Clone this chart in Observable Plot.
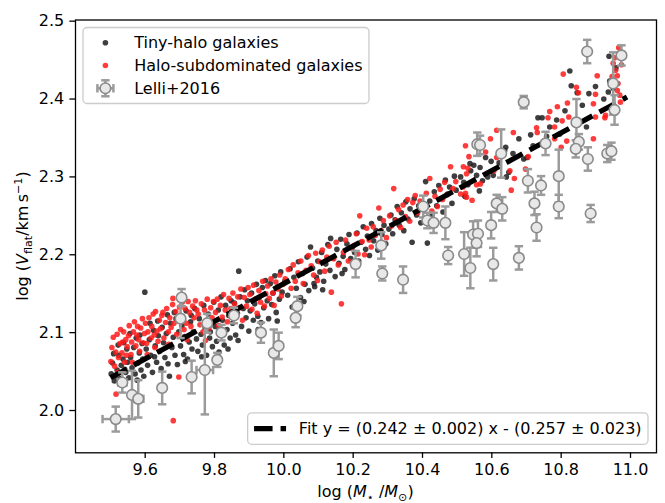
<!DOCTYPE html>
<html>
<head>
<meta charset="utf-8">
<script src="https://cdn.jsdelivr.net/npm/d3@7"></script>
<script src="https://cdn.jsdelivr.net/npm/@observablehq/plot@0.6"></script>
<style>
  html, body { margin: 0; padding: 0; background: #fff; }
  #chart svg { display: block; }
</style>
</head>
<body>
<div id="chart"></div>
<script>
// Tiny-halo galaxies: [log M*, log Vflat]
const tinyHalo = [
  [9.502,2.047],[9.511,2.038],[9.506,2.061],[9.519,2.052],[9.524,2.071],[9.513,2.044],[9.531,2.058],[9.528,2.041],
  [9.536,2.066],[9.541,2.053],[9.547,2.079],[9.538,2.087],[9.544,2.049],[9.509,2.073],[9.522,2.084],[9.549,2.062],
  [9.553,2.042],[9.558,2.068],[9.562,2.055],[9.567,2.081],[9.571,2.047],[9.574,2.093],[9.579,2.061],[9.583,2.074],
  [9.588,2.052],[9.591,2.086],[9.596,2.044],[9.599,2.152],[9.556,2.099],[9.585,2.097],[9.593,2.066],[9.577,2.039],
  [9.603,2.079],[9.607,2.058],[9.612,2.091],[9.616,2.071],[9.621,2.049],[9.624,2.103],[9.629,2.083],[9.633,2.062],
  [9.638,2.096],[9.642,2.076],[9.646,2.054],[9.649,2.107],[9.614,2.112],[9.636,2.115],[9.627,2.069],
  [9.653,2.087],[9.657,2.068],[9.661,2.099],[9.666,2.060],[9.670,2.044],[9.673,2.112],[9.677,2.081],[9.681,2.094],
  [9.686,2.071],[9.689,2.118],[9.693,2.059],[9.697,2.101],[9.664,2.123],[9.684,2.126],
  [9.702,2.083],[9.706,2.109],[9.711,2.072],[9.714,2.095],[9.718,2.128],[9.722,2.066],[9.727,2.088],[9.731,2.114],
  [9.735,2.079],[9.739,2.101],[9.743,2.131],[9.748,2.092],[9.716,2.063],[9.733,2.122],
  [9.752,2.076],[9.756,2.118],[9.761,2.098],[9.765,2.084],[9.769,2.135],[9.773,2.106],[9.777,2.071],[9.782,2.124],
  [9.786,2.093],[9.790,2.113],[9.794,2.082],[9.798,2.139],[9.763,2.069],[9.788,2.101],
  [9.802,2.108],[9.806,2.089],[9.811,2.129],[9.815,2.097],[9.819,2.146],[9.823,2.116],[9.828,2.084],[9.832,2.135],
  [9.836,2.104],[9.841,2.122],[9.845,2.093],[9.848,2.141],[9.813,2.075],[9.839,2.079],
  [9.852,2.112],[9.857,2.138],[9.861,2.097],[9.866,2.125],[9.870,2.179],[9.874,2.146],[9.878,2.108],[9.883,2.131],
  [9.887,2.155],[9.891,2.119],[9.895,2.141],[9.899,2.102],[9.868,2.090],
  [9.903,2.128],[9.907,2.151],[9.912,2.116],[9.916,2.137],[9.921,2.162],[9.925,2.121],[9.929,2.145],[9.934,2.113],
  [9.938,2.158],[9.942,2.132],[9.947,2.167],[9.926,2.104],
  [9.952,2.141],[9.956,2.118],[9.961,2.163],[9.965,2.136],[9.969,2.151],[9.974,2.173],[9.978,2.126],[9.982,2.159],
  [9.987,2.143],[9.991,2.178],[9.995,2.152],[9.981,2.115],
  [10.003,2.166],[10.011,2.148],[10.018,2.182],[10.024,2.133],[10.029,2.171],[10.036,2.157],[10.042,2.191],[10.048,2.145],
  [10.054,2.176],[10.061,2.162],[10.067,2.197],[10.072,2.154],[10.077,2.210],[10.083,2.183],[10.089,2.159],[10.094,2.171],
  [10.098,2.192],[10.058,2.140],[10.087,2.163],
  [10.104,2.178],[10.109,2.203],[10.115,2.166],[10.121,2.188],[10.127,2.213],[10.133,2.180],[10.135,2.221],[10.142,2.196],
  [10.148,2.172],[10.153,2.207],[10.159,2.189],[10.164,2.220],[10.171,2.198],[10.176,2.181],[10.182,2.214],[10.188,2.226],
  [10.193,2.195],[10.197,2.209],[10.112,2.155],[10.168,2.176],
  [10.204,2.203],[10.211,2.228],[10.216,2.192],[10.223,2.216],[10.229,2.236],[10.236,2.207],[10.241,2.224],[10.247,2.199],
  [10.253,2.240],[10.259,2.218],[10.266,2.231],[10.271,2.206],[10.277,2.247],[10.283,2.226],[10.289,2.238],[10.294,2.214],
  [10.303,2.233],[10.309,2.251],[10.314,2.227],[10.321,2.245],[10.327,2.262],[10.333,2.238],[10.339,2.254],[10.346,2.231],
  [10.352,2.268],[10.358,2.246],[10.364,2.259],[10.370,2.216],[10.376,2.272],[10.383,2.251],[10.389,2.263],[10.395,2.241],
  [10.404,2.258],[10.409,2.294],[10.414,2.215],[10.421,2.269],[10.428,2.251],[10.434,2.281],[10.441,2.263],[10.447,2.289],
  [10.453,2.272],[10.459,2.255],[10.466,2.296],[10.472,2.278],[10.478,2.287],[10.485,2.266],[10.492,2.301],[10.497,2.283],
  [10.510,2.300],[10.519,2.293],[10.522,2.275],[10.531,2.290],[10.537,2.317],[10.539,2.308],[10.548,2.315],[10.556,2.302],
  [10.564,2.282],[10.566,2.312],[10.573,2.295],[10.582,2.325],[10.588,2.300],[10.598,2.320],[10.604,2.302],[10.621,2.318],
  [10.637,2.334],[10.640,2.338],[10.642,2.300],[10.649,2.306],[10.661,2.330],[10.678,2.349],[10.692,2.323],[10.702,2.325],
  [10.712,2.354],[10.719,2.340],[10.733,2.376],[10.745,2.376],[10.758,2.352],[10.767,2.364],[10.787,2.373],[10.796,2.355],
  [10.811,2.385],[10.825,2.436],[10.829,2.417],[10.846,2.408],[10.861,2.392],[10.873,2.364],[10.880,2.407],[10.899,2.416],
  [10.923,2.400],[10.938,2.455],[10.936,2.409],[10.940,2.423],[10.950,2.414],[10.958,2.440]
];

// Halo-subdominated galaxies: [log M*, log Vflat]
const haloSub = [
  [9.501,2.063],[9.504,2.081],[9.508,2.094],[9.512,2.057],[9.515,2.075],[9.516,2.021],[9.519,2.098],[9.523,2.068],
  [9.527,2.086],[9.529,2.104],[9.533,2.074],[9.538,2.101],[9.541,2.062],[9.544,2.091],[9.548,2.082],[9.521,2.049],
  [9.535,2.088],[9.546,2.071],
  [9.552,2.096],[9.554,2.109],[9.559,2.072],[9.561,2.088],[9.566,2.101],[9.569,2.114],[9.573,2.083],[9.576,2.097],
  [9.581,2.091],[9.584,2.076],[9.587,2.106],[9.592,2.118],[9.594,2.087],[9.598,2.099],[9.563,2.062],[9.578,2.108],
  [9.601,2.112],[9.604,2.086],[9.608,2.101],[9.611,2.119],[9.617,2.093],[9.619,2.108],[9.623,2.124],[9.626,2.097],
  [9.630,2.127],[9.634,2.102],[9.637,2.089],[9.641,2.116],[9.644,2.105],[9.648,2.122],[9.606,2.072],[9.628,2.081],
  [9.651,2.126],[9.654,2.093],[9.659,2.113],[9.662,2.131],[9.667,2.101],[9.671,2.119],[9.675,2.107],[9.679,2.136],
  [9.680,2.144],[9.681,1.987],[9.683,2.112],[9.688,2.127],[9.691,2.098],[9.695,2.118],[9.697,2.043],[9.699,2.133],
  [9.668,2.085],
  [9.703,2.121],[9.707,2.139],[9.712,2.104],[9.715,2.131],[9.719,2.112],[9.724,2.140],[9.728,2.126],[9.732,2.108],
  [9.737,2.134],[9.741,2.119],[9.745,2.141],[9.749,2.129],[9.721,2.091],
  [9.753,2.124],[9.758,2.110],[9.762,2.137],[9.767,2.101],[9.771,2.129],[9.776,2.116],[9.779,2.143],[9.784,2.106],
  [9.789,2.132],[9.793,2.119],[9.797,2.140],[9.774,2.090],
  [9.803,2.126],[9.808,2.143],[9.812,2.109],[9.817,2.135],[9.822,2.120],[9.826,2.149],[9.831,2.129],[9.837,2.114],
  [9.842,2.144],[9.847,2.131],[9.820,2.098],
  [9.853,2.151],[9.858,2.137],[9.863,2.121],[9.867,2.146],[9.872,2.132],[9.876,2.156],[9.881,2.116],[9.886,2.145],
  [9.892,2.134],[9.897,2.158],
  [9.902,2.149],[9.908,2.130],[9.913,2.161],[9.918,2.143],[9.923,2.125],[9.928,2.154],[9.933,2.139],[9.939,2.166],
  [9.944,2.134],[9.948,2.150],
  [9.953,2.160],[9.958,2.144],[9.963,2.169],[9.968,2.151],[9.972,2.135],[9.977,2.165],[9.983,2.156],[9.988,2.174],
  [9.993,2.147],[9.998,2.162],
  [10.004,2.169],[10.013,2.181],[10.021,2.157],[10.027,2.187],[10.033,2.166],[10.041,2.177],[10.049,2.192],[10.056,2.163],
  [10.064,2.180],[10.071,2.199],[10.079,2.186],[10.086,2.174],[10.092,2.202],[10.097,2.167],
  [10.103,2.191],[10.111,2.206],[10.118,2.179],[10.124,2.197],[10.131,2.211],[10.137,2.152],[10.144,2.195],[10.151,2.216],
  [10.157,2.187],[10.166,2.137],[10.172,2.203],[10.178,2.219],[10.186,2.192],[10.194,2.209],
  [10.202,2.212],[10.209,2.227],[10.214,2.201],[10.219,2.250],[10.226,2.217],[10.233,2.200],[10.239,2.234],[10.246,2.219],
  [10.252,2.210],[10.258,2.236],[10.264,2.225],[10.274,2.260],[10.281,2.231],[10.287,2.244],[10.296,2.222],
  [10.305,2.250],[10.311,2.237],[10.317,2.285],[10.324,2.244],[10.331,2.258],[10.337,2.235],[10.344,2.264],[10.351,2.249],
  [10.357,2.271],[10.363,2.243],[10.372,2.267],[10.379,2.276],[10.386,2.254],[10.393,2.269],
  [10.403,2.265],[10.411,2.279],[10.421,2.298],[10.427,2.256],[10.436,2.275],[10.443,2.262],[10.451,2.284],[10.458,2.271],
  [10.464,2.293],[10.471,2.277],[10.481,2.313],[10.488,2.285],[10.496,2.294],
  [10.510,2.278],[10.517,2.287],[10.518,2.313],[10.524,2.340],[10.524,2.279],[10.527,2.304],[10.527,2.274],[10.531,2.311],
  [10.534,2.326],[10.543,2.270],[10.556,2.290],[10.567,2.291],[10.582,2.332],[10.596,2.349],[10.606,2.308],[10.614,2.325],
  [10.614,2.360],[10.652,2.308],[10.656,2.283],[10.662,2.357],[10.665,2.298],[10.697,2.310],[10.705,2.326],[10.729,2.363],
  [10.731,2.357],[10.762,2.376],[10.767,2.384],[10.781,2.349],[10.781,2.364],[10.789,2.390],[10.800,2.338],[10.803,2.372],
  [10.806,2.432],[10.816,2.346],[10.818,2.395],[10.822,2.377],[10.844,2.415],[10.850,2.408],[10.893,2.349],[10.893,2.394],
  [10.899,2.406],[10.899,2.377],[10.904,2.430],[10.926,2.376],[10.928,2.379],[10.947,2.429],[10.950,2.446],[10.954,2.453],
  [10.957,2.437],[10.962,2.430],[10.962,2.411],[10.964,2.420],[10.966,2.466],[10.969,2.405],[10.971,2.396],[10.974,2.444]
];

// Lelli+2016: [log M*, log Vflat, error in log Vflat, error in log M*]
const lelli = [
  [9.515,1.989,0.016,0.038],[9.534,2.036,0.013,0.012],[9.562,2.020,0.031,0],[9.580,2.015,0.024,0.015],
  [9.649,2.029,0.021,0],[9.705,2.145,0.011,0],[9.702,2.118,0.025,0],[9.734,2.043,0.021,0],
  [9.772,2.052,0.057,0.024],[9.779,2.112,0.012,0],[9.808,2.065,0.009,0],[9.820,2.100,0.010,0],
  [9.856,2.122,0.010,0],[9.934,2.100,0.013,0],[9.971,2.074,0.030,0],[9.985,2.083,0.017,0],
  [10.034,2.119,0.012,0],[10.039,2.134,0.012,0],[10.207,2.188,0.017,0],[10.281,2.212,0.017,0],
  [10.284,2.176,0.009,0],[10.344,2.168,0.017,0],[10.402,2.262,0.014,0],[10.414,2.244,0.010,0],
  [10.432,2.241,0.013,0],[10.466,2.241,0.021,0],[10.474,2.199,0.011,0],[10.520,2.201,0.028,0],
  [10.538,2.183,0.026,0],[10.546,2.226,0.017,0],[10.560,2.227,0.017,0],[10.556,2.215,0.017,0],
  [10.558,2.342,0.015,0],[10.566,2.341,0.012,0],[10.598,2.238,0.017,0],[10.604,2.188,0.021,0],
  [10.614,2.266,0.011,0],[10.630,2.259,0.015,0],[10.627,2.330,0.031,0],[10.678,2.196,0.015,0],
  [10.692,2.396,0.008,0],[10.704,2.295,0.015,0],[10.723,2.266,0.015,0],[10.729,2.235,0.017,0],
  [10.742,2.289,0.012,0],[10.755,2.343,0.015,0],[10.793,2.301,0.034,0],[10.793,2.262,0.015,0],
  [10.844,2.370,0.030,0],[10.851,2.345,0.010,0],[10.842,2.336,0.011,0],[10.875,2.461,0.015,0],
  [10.877,2.323,0.015,0],[10.885,2.253,0.011,0],[10.933,2.330,0.011,0],[10.945,2.333,0.011,0],
  [10.950,2.420,0.040,0],[10.954,2.386,0.019,0],[10.974,2.456,0.013,0]
];

// Linear fit y = slope * x + intercept, drawn over the galaxy mass range
const fitSlope = 0.242, fitSlopeErr = 0.002;
const fitIntercept = -0.257, fitInterceptErr = 0.023;
const fitRange = [9.50, 10.99];

const xTicks = [9.6, 9.8, 10.0, 10.2, 10.4, 10.6, 10.8, 11.0];
const yTicks = [2.0, 2.1, 2.2, 2.3, 2.4, 2.5];

const seriesLabels = ["Tiny-halo galaxies", "Halo-subdominated galaxies", "Lelli+2016"];
const fitLabel = `Fit y = (${fitSlope.toFixed(3)} \u00b1 ${fitSlopeErr.toFixed(3)}) x - (${(-fitIntercept).toFixed(3)} \u00b1 ${fitInterceptErr.toFixed(3)})`;

// Styles
const FS = 16;
const tinyColor = "#1c1c1c", subColor = "#ff1a1a", dotOpacity = 0.85, dotR = 2.8;
const barColor = "#9b9b9b", ringColor = "#8a8a8a", ringFill = "#e8e8e8", ringR = 5.3;
const capHalf = 4.2;
const capH = {draw(ctx) { ctx.moveTo(-capHalf, 0); ctx.lineTo(capHalf, 0); }};
const capV = {draw(ctx) { ctx.moveTo(0, -capHalf); ctx.lineTo(0, capHalf); }};

const lelliX = lelli.filter(d => d[3] > 0);
const fmt = d3.format(".1f");

const plot = Plot.plot({
  width: 665,
  height: 503,
  marginLeft: 75,
  marginRight: 9,
  marginTop: 19.5,
  marginBottom: 50.7,
  x: {domain: [9.399, 11.075]},
  y: {domain: [1.9457, 2.5015]},
  style: {fontFamily: "DejaVu Sans", fontSize: FS + "px", color: "black", background: "white", overflow: "visible"},
  marks: [
    Plot.dot(tinyHalo, {x: d => d[0], y: d => d[1], r: dotR, fill: tinyColor, fillOpacity: dotOpacity}),
    Plot.dot(haloSub, {x: d => d[0], y: d => d[1], r: dotR, fill: subColor, fillOpacity: dotOpacity}),
    Plot.line(fitRange, {x: d => d, y: d => fitSlope * d + fitIntercept, stroke: "black", strokeWidth: 5.2,
      strokeDasharray: "18.5,8", strokeLinecap: "butt"}),
    // Lelli+2016 error bars, caps and markers
    Plot.ruleX(lelli, {x: d => d[0], y1: d => d[1] - d[2], y2: d => d[1] + d[2], stroke: barColor, strokeWidth: 2.5}),
    Plot.ruleY(lelliX, {y: d => d[1], x1: d => d[0] - d[3], x2: d => d[0] + d[3], stroke: barColor, strokeWidth: 2.5}),
    Plot.dot(lelli, {x: d => d[0], y: d => d[1] - d[2], symbol: capH, stroke: barColor, strokeWidth: 2.5, fill: "none"}),
    Plot.dot(lelli, {x: d => d[0], y: d => d[1] + d[2], symbol: capH, stroke: barColor, strokeWidth: 2.5, fill: "none"}),
    Plot.dot(lelliX, {x: d => d[0] - d[3], y: d => d[1], symbol: capV, stroke: barColor, strokeWidth: 2.5, fill: "none"}),
    Plot.dot(lelliX, {x: d => d[0] + d[3], y: d => d[1], symbol: capV, stroke: barColor, strokeWidth: 2.5, fill: "none"}),
    Plot.dot(lelli, {x: d => d[0], y: d => d[1], r: ringR, fill: ringFill, stroke: ringColor, strokeWidth: 1.6}),
    Plot.axisX(xTicks, {tickSize: 5.6, tickPadding: 5.6, tickFormat: fmt, label: null, strokeWidth: 1.3}),
    Plot.axisY(yTicks, {tickSize: 5.6, tickPadding: 5.6, tickFormat: fmt, label: null, strokeWidth: 1.3}),
    Plot.frame({stroke: "black", strokeWidth: 1.3})
  ]
});

document.getElementById("chart").appendChild(plot);
const svg = d3.select(plot);

// Axis labels with math-style sub/superscripts
const xl = svg.append("text").attr("x", 365.5).attr("y", 497).attr("text-anchor", "middle")
  .attr("font-size", FS).attr("fill", "black");
xl.append("tspan").text("log (");
xl.append("tspan").attr("font-style", "italic").text("M");
xl.append("tspan").attr("font-size", FS * 0.7).attr("dy", 3.5).text("\u22c6");
xl.append("tspan").attr("dy", -3.5).text(" /");
xl.append("tspan").attr("font-style", "italic").text("M");
xl.append("tspan").attr("font-size", FS * 0.7).attr("dy", 3.5).text("\u2299");
xl.append("tspan").attr("dy", -3.5).text(")");

const yl = svg.append("text").attr("transform", "translate(28,236) rotate(-90)").attr("text-anchor", "middle")
  .attr("font-size", FS).attr("fill", "black");
yl.append("tspan").text("log (");
yl.append("tspan").attr("font-style", "italic").text("V");
yl.append("tspan").attr("font-size", FS * 0.7).attr("dy", 3.5).text("flat");
yl.append("tspan").attr("dy", -3.5).text("/km\u2009s");
yl.append("tspan").attr("font-size", FS * 0.7).attr("dy", -6).text("\u22121");
yl.append("tspan").attr("dy", 6).text(")");

// Legend helper
function legendBox(g, x, y, w, h) {
  g.insert("rect", ":first-child").attr("x", x).attr("y", y).attr("width", w).attr("height", h)
    .attr("rx", 4).attr("fill", "white").attr("fill-opacity", 0.8).attr("stroke", "#cccccc").attr("stroke-width", 1.3);
}
const pad = 0.4 * FS, handleLen = 2 * FS, handleGap = 0.8 * FS;

// Series legend, upper left
{
  const bx = 75 + 0.5 * FS, by = 19.5 + 0.5 * FS;
  const firstRow = 15.2, rowStep = 22.8;
  const g = svg.append("g");
  const hx = bx + pad + handleLen / 2, tx = bx + pad + handleLen + handleGap;
  let maxW = 0;
  seriesLabels.forEach((lab, i) => {
    const cy = by + firstRow + i * rowStep;
    const t = g.append("text").attr("x", tx).attr("y", cy).attr("dy", "0.36em").attr("text-anchor", "start")
      .attr("font-size", FS).attr("fill", "black").text(lab);
    maxW = Math.max(maxW, t.node().getComputedTextLength());
    if (i === 0) g.append("circle").attr("cx", hx).attr("cy", cy).attr("r", dotR).attr("fill", tinyColor).attr("fill-opacity", dotOpacity);
    if (i === 1) g.append("circle").attr("cx", hx).attr("cy", cy).attr("r", dotR).attr("fill", subColor).attr("fill-opacity", dotOpacity);
    if (i === 2) {
      const e = 8;
      g.append("line").attr("x1", hx - e).attr("x2", hx + e).attr("y1", cy).attr("y2", cy).attr("stroke", barColor).attr("stroke-width", 2.5);
      g.append("line").attr("x1", hx).attr("x2", hx).attr("y1", cy - e).attr("y2", cy + e).attr("stroke", barColor).attr("stroke-width", 2.5);
      [[hx - e, cy, 0], [hx + e, cy, 0], [hx, cy - e, 1], [hx, cy + e, 1]].forEach(([px, py, horiz]) => {
        if (horiz) g.append("line").attr("x1", px - capHalf).attr("x2", px + capHalf).attr("y1", py).attr("y2", py).attr("stroke", barColor).attr("stroke-width", 2.5);
        else g.append("line").attr("x1", px).attr("x2", px).attr("y1", py - capHalf).attr("y2", py + capHalf).attr("stroke", barColor).attr("stroke-width", 2.5);
      });
      g.append("circle").attr("cx", hx).attr("cy", cy).attr("r", ringR).attr("fill", ringFill).attr("stroke", ringColor).attr("stroke-width", 1.6);
    }
  });
  const w = pad + handleLen + handleGap + maxW + pad;
  const h = 2 * firstRow + 2 * rowStep;
  legendBox(g, bx, by, w, h);
}

// Fit legend, lower right
{
  const right = 656 - 0.5 * FS, bottom = 452.3 - 0.5 * FS;
  const h = 31.4;
  const by = bottom - h, cy = by + h / 2;
  const g = svg.append("g");
  const t = g.append("text").attr("y", cy).attr("dy", "0.36em").attr("text-anchor", "start")
    .attr("font-size", FS).attr("fill", "black").text(fitLabel);
  const tw = t.node().getComputedTextLength();
  const w = pad + handleLen + handleGap + tw + pad;
  const bx = right - w;
  t.attr("x", bx + pad + handleLen + handleGap);
  g.append("line").attr("x1", bx + pad).attr("x2", bx + pad + handleLen).attr("y1", cy).attr("y2", cy)
    .attr("stroke", "black").attr("stroke-width", 5.2).attr("stroke-dasharray", "18.5,8");
  legendBox(g, bx, by, w, h);
}
</script>
</body>
</html>
